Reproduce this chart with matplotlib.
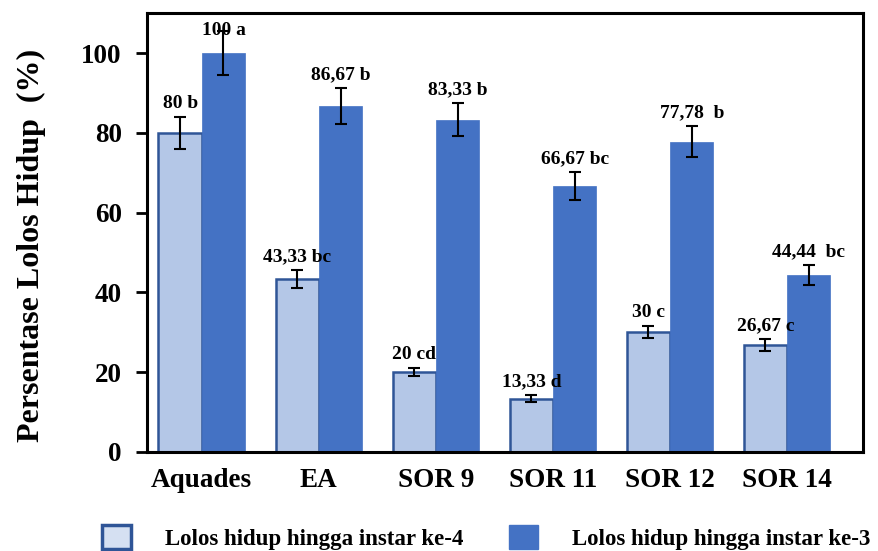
import numpy as np
import matplotlib
matplotlib.use("Agg")
import matplotlib.pyplot as plt
from matplotlib.patches import Patch

categories = ["Aquades", "EA", "SOR 9", "SOR 11", "SOR 12", "SOR 14"]
instar4 = [80, 43.33, 20, 13.33, 30, 26.67]
instar4_err = [4.0, 2.2, 1.1, 0.9, 1.5, 1.5]
instar4_labels = ["80 b", "43,33 bc", "20 cd", "13,33 d", "30 c", "26,67 c"]
instar3 = [100, 86.67, 83.33, 66.67, 77.78, 44.44]
instar3_err = [5.5, 4.5, 4.1, 3.4, 3.9, 2.5]
instar3_labels = ["100 a", "86,67 b", "83,33 b", "66,67 bc", "77,78  b", "44,44  bc"]

plt.rcParams['font.family'] = ['Liberation Serif', 'DejaVu Serif']
plt.rcParams['font.weight'] = 'bold'

LIGHT = "#B4C7E7"
EDGE = "#2F5597"
DARK = "#4472C4"

fig = plt.figure(figsize=(8.79, 5.51), dpi=100)
ax = fig.add_axes([0.167, 0.180, 0.815, 0.796])

x = np.arange(len(categories))
w = 0.37
ax.bar(x - w / 2, instar4, w, color=LIGHT, edgecolor=EDGE, linewidth=1.8, zorder=2)
ax.bar(x + w / 2, instar3, w, color=DARK, edgecolor=DARK, linewidth=0.5, zorder=2)
ekw = dict(fmt='none', ecolor='black', elinewidth=1.5, capsize=4, capthick=1.5, zorder=3)
ax.errorbar(x - w / 2, instar4, yerr=instar4_err, **ekw)
ax.errorbar(x + w / 2, instar3, yerr=instar3_err, **ekw)

for xi, v, e, lab in zip(x - w / 2, instar4, instar4_err, instar4_labels):
    ax.text(xi, min(v + e + 1.2, 103.5), lab, ha='center', va='bottom',
            fontsize=14, fontweight='bold')
for xi, v, e, lab in zip(x + w / 2, instar3, instar3_err, instar3_labels):
    ax.text(xi, min(v + e + 1.2, 103.5), lab, ha='center', va='bottom',
            fontsize=14, fontweight='bold')

ax.set_xlim(-0.47, 5.65)
ax.set_ylim(0, 110)
ax.set_yticks([0, 20, 40, 60, 80, 100])
ax.set_xticks(x)
ax.set_xticklabels(categories, fontsize=19.5, fontweight='bold')
ax.tick_params(axis='x', length=0, pad=12)
ax.tick_params(axis='y', labelsize=19.5, length=8, width=2, pad=10)
for s in ax.spines.values():
    s.set_linewidth(2.2)
ax.set_ylabel("Persentase Lolos Hidup  (%)", fontsize=23, fontweight='bold')
ax.yaxis.set_label_coords(-0.14, 0.47)

handles = [Patch(facecolor="#D5E0F2", edgecolor=EDGE, linewidth=2.5),
           Patch(facecolor=DARK, edgecolor=DARK)]
fig.legend(handles, ["Lolos hidup hingga instar ke-4", "Lolos hidup hingga instar ke-3"],
           loc='center left', bbox_to_anchor=(0.116, 0.025), ncol=2, frameon=False,
           prop={'size': 16.5, 'weight': 'bold'}, handlelength=1.25, handleheight=1.25,
           handletextpad=1.5, columnspacing=2.0, borderpad=0, borderaxespad=0)

fig.savefig("out.png", dpi=100)
